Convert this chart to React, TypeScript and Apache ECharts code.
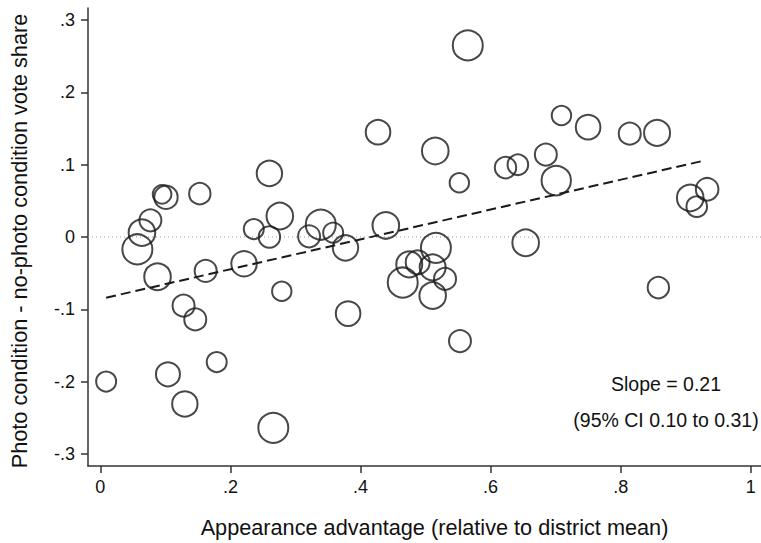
import React, { useEffect, useRef } from "react";
import * as echarts from "echarts";

// Appearance advantage (relative to district mean)
const advantage = [
  0.009, 0.057, 0.064, 0.077, 0.095, 0.101, 0.153, 0.162, 0.088, 0.128,
  0.146, 0.104, 0.130, 0.179, 0.221, 0.236, 0.260, 0.260, 0.276, 0.279,
  0.266, 0.321, 0.339, 0.358, 0.377, 0.381, 0.427, 0.439, 0.465, 0.475,
  0.488, 0.511, 0.516, 0.530, 0.511, 0.553, 0.552, 0.515, 0.565, 0.623,
  0.642, 0.685, 0.701, 0.709, 0.750, 0.814, 0.856, 0.654, 0.858, 0.907,
  0.933, 0.917,
];
// Photo condition - no-photo condition vote share
const voteDiff = [
  -0.200, -0.017, 0.006, 0.023, 0.059, 0.055, 0.060, -0.047, -0.055, -0.095,
  -0.114, -0.190, -0.231, -0.173, -0.037, 0.011, 0.088, 0.000, 0.029, -0.075,
  -0.264, 0.001, 0.017, 0.006, -0.015, -0.106, 0.145, 0.016, -0.063, -0.038,
  -0.035, -0.042, -0.015, -0.058, -0.081, -0.144, 0.075, 0.119, 0.265, 0.096,
  0.100, 0.114, 0.078, 0.168, 0.152, 0.143, 0.144, -0.008, -0.070, 0.054,
  0.066, 0.042,
];
// relative marker weight (circle radius)
const weight = [
  10, 15, 13.3, 11, 9.3, 11.7, 10.7, 11, 13.3, 11,
  11, 12, 12.7, 10, 12.7, 10, 12.7, 10.7, 13.3, 9.7,
  15, 11, 15, 10, 12.7, 12.3, 12.3, 13.3, 15, 13,
  12, 13, 15, 11, 13.3, 11, 9.7, 13.3, 15, 10.7,
  10.3, 11, 14.7, 9.7, 12.3, 11, 13, 13.3, 10.7, 13.3,
  11.3, 10.3,
];
// fitted regression line endpoints
const fitX = [0.009, 0.925];
const fitY = [-0.084, 0.105];

const xTicks = [0, 0.2, 0.4, 0.6, 0.8, 1];
const yTicks = [-0.3, -0.2, -0.1, 0, 0.1, 0.2, 0.3];

const X_MIN = -0.0189;
const X_MAX = 1.0158;
const Y_MIN = -0.3168;
const Y_MAX = 0.3168;

const FONT = "'Liberation Sans', Arial, Helvetica, sans-serif";
const INK = "#111";

function fmt(v: number): string {
  if (Math.abs(v) < 1e-9) return "0";
  const s = String(Math.abs(Math.round(v * 1000) / 1000)).replace(/^0/, "");
  return (v < 0 ? "-" : "") + s;
}

export default function App() {
  const ref = useRef<HTMLDivElement>(null);
  useEffect(() => {
    if (!ref.current) return;
    const chart = echarts.init(ref.current, undefined, { renderer: "svg" });
    const points = advantage.map((x, i) => [x, voteDiff[i], weight[i]]);
    chart.setOption({
      animation: false,
      backgroundColor: "#fff",
      grid: { left: 86, right: 0, top: 8, bottom: 76, containLabel: false },
      xAxis: {
        type: "value",
        min: X_MIN,
        max: X_MAX,
        name: "Appearance advantage (relative to district mean)",
        nameLocation: "middle",
        nameGap: 50,
        nameTextStyle: { fontFamily: FONT, fontSize: 21.7, color: INK, padding: [0, 0, 0, 20] },
        axisLine: { show: true, onZero: false, lineStyle: { color: "#333", width: 1.5 } },
        axisTick: { show: true, length: 7, customValues: xTicks, lineStyle: { color: "#333", width: 1.5 } },
        axisLabel: {
          customValues: xTicks,
          formatter: (v: number) => fmt(v),
          margin: 12,
          fontFamily: FONT,
          fontSize: 18,
          color: INK,
        },
        splitLine: { show: false },
      },
      yAxis: {
        type: "value",
        min: Y_MIN,
        max: Y_MAX,
        name: "Photo condition - no-photo condition vote share",
        nameLocation: "middle",
        nameGap: 58,
        nameTextStyle: { fontFamily: FONT, fontSize: 21.7, color: INK, padding: [0, 8, 0, 0] },
        axisLine: { show: true, onZero: false, lineStyle: { color: "#333", width: 1.5 } },
        axisTick: { show: true, length: 7, customValues: yTicks, lineStyle: { color: "#333", width: 1.5 } },
        axisLabel: {
          customValues: yTicks,
          formatter: (v: number) => fmt(v),
          margin: 13,
          fontFamily: FONT,
          fontSize: 18,
          color: INK,
        },
        splitLine: { show: false },
      },
      series: [
        {
          type: "line",
          data: [[X_MIN, 0], [X_MAX, 0]],
          symbol: "none",
          silent: true,
          lineStyle: { color: "#999", width: 1, type: [1, 3] },
          z: 1,
        },
        {
          type: "line",
          data: fitX.map((x, i) => [x, fitY[i]]),
          symbol: "none",
          silent: true,
          lineStyle: { color: "#1a1a1a", width: 2, type: [10, 5] },
          z: 2,
        },
        {
          type: "scatter",
          data: points,
          symbol: "circle",
          symbolSize: (v: number[]) => v[2] * 2,
          itemStyle: { color: "rgba(0,0,0,0)", borderColor: "#1a1a1a", borderWidth: 2 },
          z: 3,
        },
      ],
      graphic: [
        {
          type: "text",
          x: 666,
          y: 384,
          style: {
            text: "Slope = 0.21",
            fontFamily: FONT,
            fontSize: 19.5,
            fill: INK,
            align: "center",
            verticalAlign: "middle",
          },
        },
        {
          type: "text",
          x: 666,
          y: 420,
          style: {
            text: "(95% CI 0.10 to 0.31)",
            fontFamily: FONT,
            fontSize: 19.5,
            fill: INK,
            align: "center",
            verticalAlign: "middle",
          },
        },
      ],
    });
    return () => chart.dispose();
  }, []);
  return <div ref={ref} style={{ width: 761, height: 543, position: "absolute", left: 0, top: 0 }} />;
}
